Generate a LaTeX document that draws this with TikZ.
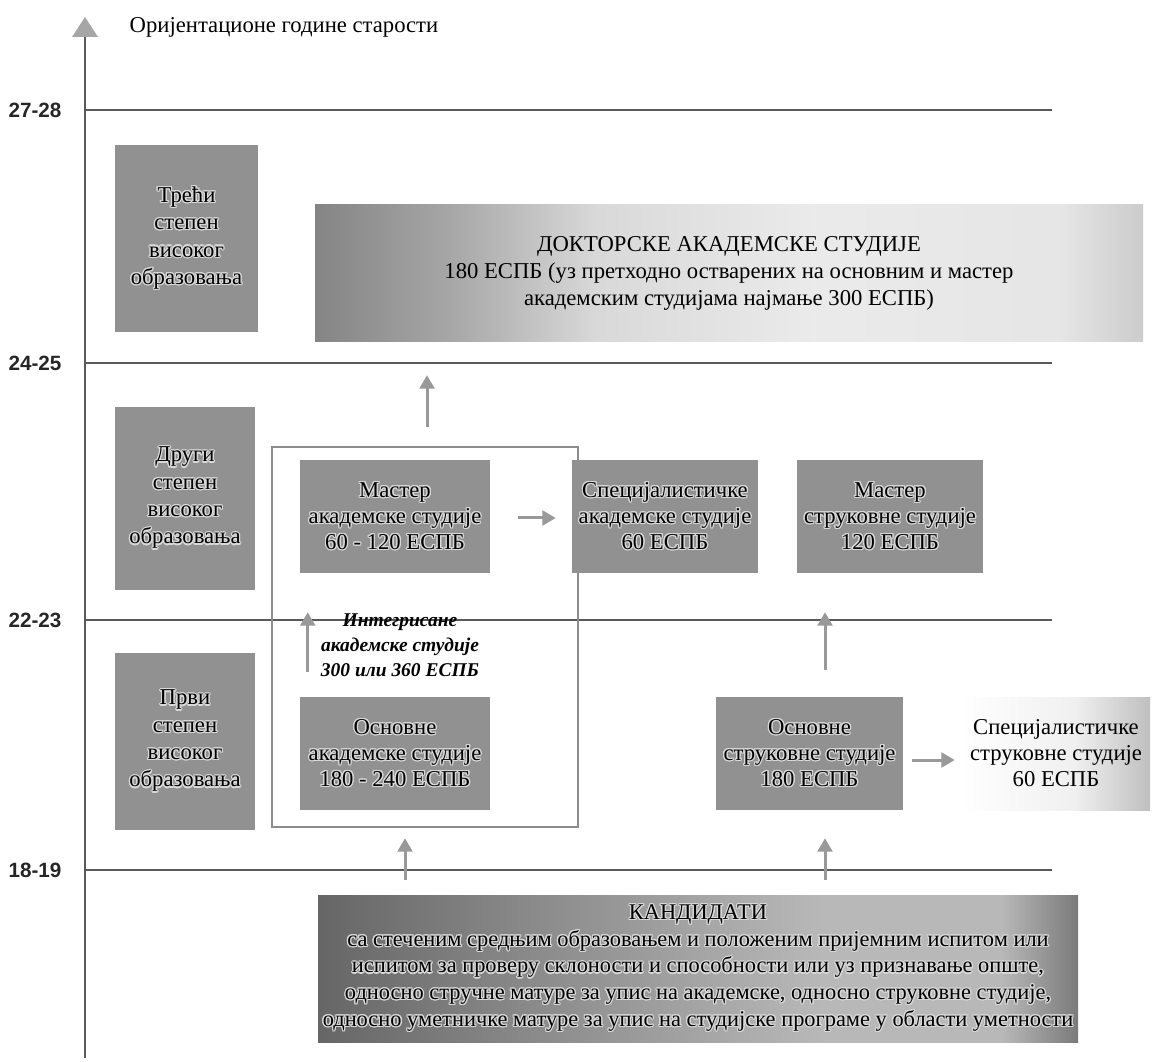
\documentclass[tikz,border=0pt]{standalone}
\usepackage{fontspec}
\setmainfont{Liberation Serif}
\newfontfamily\labfont{Liberation Sans}
\newfontfamily\srbit[Script=Cyrillic,Language=Serbian]{Liberation Serif}
\usepackage{contour}
\contourlength{0.9pt}
\usetikzlibrary{arrows.meta,calc,shadings}
\newcommand\glw[1]{\contour{white!85!black}{#1}}
\pgfdeclarehorizontalshading{docsh}{100bp}{color(0bp)=(black!48); color(25bp)=(black!48); color(33bp)=(black!35); color(42bp)=(black!15); color(55bp)=(black!8); color(70bp)=(black!10); color(75bp)=(black!20); color(100bp)=(black!20)}
\pgfdeclarehorizontalshading{kandsh}{100bp}{color(0bp)=(black!60); color(25bp)=(black!60); color(40bp)=(black!45); color(58bp)=(black!28); color(70bp)=(black!28); color(75bp)=(black!52); color(100bp)=(black!52)}
\pgfdeclarehorizontalshading{specsh}{100bp}{color(0bp)=(white); color(25bp)=(white); color(55bp)=(black!6); color(75bp)=(black!25); color(100bp)=(black!25)}
\tikzset{
  boxtext/.style={align=center, font=\fontsize{17}{19.5}\selectfont, inner sep=0pt},
  dbox/.style={boxtext, fill=black!43},
  arr/.style={draw=black!40, line width=2.25pt, -{Triangle[width=11pt,length=10pt]}},
  yline/.style={draw=black!65, line width=1.4pt},
  ylab/.style={font=\labfont\bfseries\fontsize{15.5}{18}\selectfont, text=black!85, anchor=center},
}
\begin{document}
\begin{tikzpicture}[x=0.75pt,y=-0.75pt]
\useasboundingbox (0,0) rectangle (1154,1062);
\fill[white] (0,0) rectangle (1154,1062);
% axis
\coordinate (axb) at (85,1058);
\coordinate (axt) at (85,36);
\draw[draw=black!65, line width=1.4pt] (axb) -- (axt);
\fill[black!35] (72,37) -- (98,37) -- (85,17) -- cycle;
\node[anchor=west, font=\fontsize{17}{19}\selectfont] (title) at (125,27) {Оријентационе године старости};
% year lines
\foreach \y/\t/\n in {110/27-28/a, 363/24-25/b, 620/22-23/c, 870/18-19/d}{
  \node[ylab] (lab\n) at (35,\y) {\t};
  \coordinate (ls\n) at (85,\y);
  \coordinate (le\n) at (1052,\y);
  \draw[yline] (ls\n) -- (le\n);
}
% boxes
\node[dbox, font=\fontsize{17}{20.5}\selectfont, minimum width=143*0.75pt, minimum height=187*0.75pt] (treci) at (186.5,238.5)
  {\glw{Трећи}\\ \glw{степен}\\ \glw{високог}\\ \glw{образовања}};
\node[boxtext, font=\fontsize{17}{20}\selectfont, shading=docsh, minimum width=828*0.75pt, minimum height=137*0.75pt] (doktor) at (729,273.5)
  {ДОКТОРСКЕ АКАДЕМСКЕ СТУДИЈЕ\\ 180 ЕСПБ (уз претходно остварених на основним и мастер\\ академским студијама најмање 300 ЕСПБ)};
\node[dbox, font=\fontsize{17}{20.5}\selectfont, minimum width=140*0.75pt, minimum height=183*0.75pt] (drugi) at (185,498.5)
  {\glw{Други}\\ \glw{степен}\\ \glw{високог}\\ \glw{образовања}};
\node[draw=black!45, line width=1.4pt, minimum width=306*0.75pt, minimum height=380*0.75pt, inner sep=0pt] (frame) at (425,637) {};
\node[dbox, minimum width=190*0.75pt, minimum height=113*0.75pt] (master) at (395,516.5)
  {\glw{Мастер}\\ \glw{академске студије}\\ \glw{60 - 120 ЕСПБ}};
\node[dbox, minimum width=186*0.75pt, minimum height=113*0.75pt] (specak) at (665,516.5)
  {\glw{Специјалистичке}\\ \glw{академске студије}\\ \glw{60 ЕСПБ}};
\node[dbox, minimum width=186*0.75pt, minimum height=113*0.75pt] (masterstr) at (890,516.5)
  {\glw{Мастер}\\ \glw{струковне студије}\\ \glw{120 ЕСПБ}};
\node[dbox, font=\fontsize{17}{20.5}\selectfont, minimum width=140*0.75pt, minimum height=177*0.75pt] (prvi) at (185,741.5)
  {\glw{Први}\\ \glw{степен}\\ \glw{високог}\\ \glw{образовања}};
\node[dbox, minimum width=190*0.75pt, minimum height=113*0.75pt] (osnak) at (395,753.5)
  {\glw{Основне}\\ \glw{академске студије}\\ \glw{180 - 240 ЕСПБ}};
\node[dbox, minimum width=187*0.75pt, minimum height=113*0.75pt] (osnstr) at (809.5,753.5)
  {\glw{Основне}\\ \glw{струковне студије}\\ \glw{180 ЕСПБ}};
\node[boxtext, shading=specsh, minimum width=188*0.75pt, minimum height=113*0.75pt] (specstr) at (1056,753.5)
  {Специјалистичке\\ струковне студије\\ 60 ЕСПБ};
\node[boxtext, shading=kandsh, minimum width=760*0.75pt, minimum height=147*0.75pt, font=\fontsize{16.8}{20}\selectfont] (kand) at (698,968.5)
  {\glw{КАНДИДАТИ}\\ \glw{са стеченим средњим образовањем и положеним пријемним испитом или}\\
   \glw{испитом за проверу склоности и способности или уз признавање опште,}\\
   \glw{односно стручне матуре за упис на академске, односно струковне студије,}\\
   \glw{односно уметничке матуре за упис на студијске програме у области уметности}};
\node[align=center, font=\srbit\bfseries\itshape\fontsize{14.6}{18.75}\selectfont, inner sep=0pt] (integ) at (400,645)
  {Интегрисане\\ академске студије\\ 300 или 360 ЕСПБ};
% arrows
\draw[arr] ($(frame.north)+(2,-19)$) -- ($(frame.north |- doktor.south)+(2,33)$);
\draw[arr] ($(master.east)+(28,1.5)$) -- ($(specak.west)+(-16,1.5)$);
\draw[arr] ($(osnak.north west)+(8,-25)$) -- ($(master.south west)+(8,39)$);
\draw[arr] ($(osnstr.north)+(15.5,-27)$) -- ($(osnstr.north |- masterstr.south)+(15.5,39)$);
\draw[arr] ($(osnstr.east)+(9,6.5)$) -- ($(specstr.west)+(-7,6.5)$);
\draw[arr] ($(osnak.south |- kand.north)+(10,-15)$) -- ($(osnak.south)+(10,28)$);
\draw[arr] ($(osnstr.south |- kand.north)+(15.5,-15)$) -- ($(osnstr.south)+(15.5,28)$);
\end{tikzpicture}
\end{document}
